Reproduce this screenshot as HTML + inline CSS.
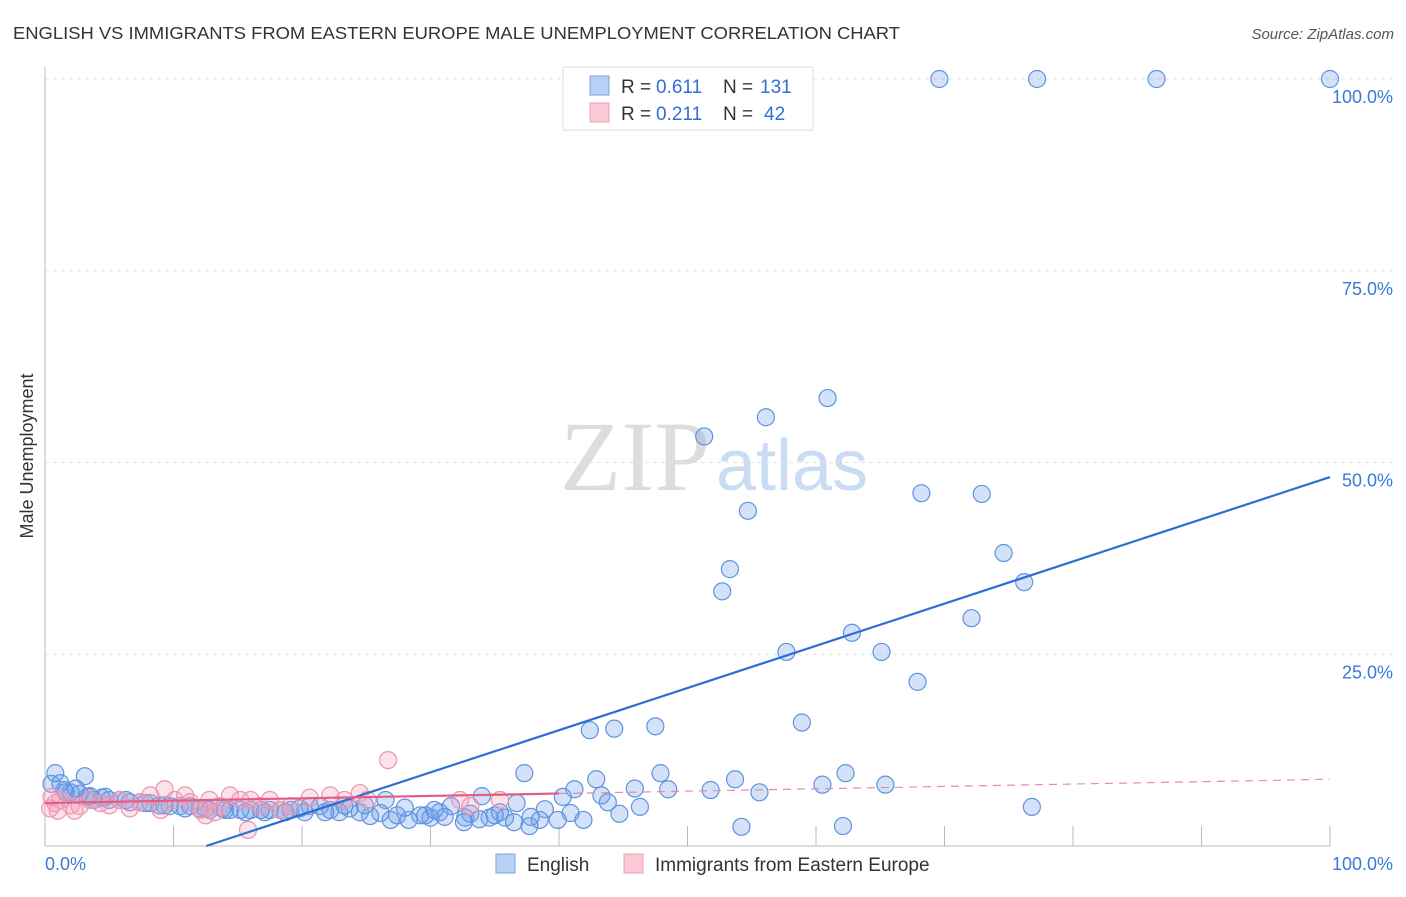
<!DOCTYPE html>
<html><head><meta charset="utf-8"><style>
body{margin:0;background:#fff;font-family:"Liberation Sans",sans-serif;}
svg text{font-family:"Liberation Sans",sans-serif;}
</style></head><body>
<svg id="c" width="1406" height="892" xmlns="http://www.w3.org/2000/svg">
<text x="13" y="39" font-size="17.5" fill="#333" textLength="887" lengthAdjust="spacingAndGlyphs">ENGLISH VS IMMIGRANTS FROM EASTERN EUROPE MALE UNEMPLOYMENT CORRELATION CHART</text>
<text x="1394" y="39" font-size="15" fill="#555" font-style="italic" text-anchor="end">Source: ZipAtlas.com</text>
<text x="710" y="490" font-size="100" fill="#ddd" text-anchor="end" style="font-family:'Liberation Serif',serif">ZIP</text>
<text x="716" y="490" font-size="72" fill="#c9dcf3">atlas</text>
<text transform="translate(33,456) rotate(-90)" font-size="18" fill="#333" text-anchor="middle">Male Unemployment</text>
<g id="grid"></g><g id="pts"></g><g id="lines"></g>
<g>
<rect x="563" y="67" width="250" height="63" fill="#fff" stroke="#ddd"/>
<rect x="590" y="76" width="19" height="19" fill="#b8d0f3" stroke="#7aa5e3"/>
<rect x="590" y="103" width="19" height="19" fill="#fbc8d6" stroke="#eea0b6"/>
<g font-size="19" fill="#333">
<text x="621" y="93">R =</text><text x="656" y="93" fill="#2f6fd6">0.611</text><text x="723" y="93">N =</text><text x="760" y="93" fill="#2f6fd6">131</text></g>
<g font-size="19" fill="#333">
<text x="621" y="120">R =</text><text x="656" y="120" fill="#2f6fd6">0.211</text><text x="723" y="120">N =</text><text x="764" y="120" fill="#2f6fd6">42</text></g>
</g>
<g>
<rect x="496" y="854" width="19" height="19" fill="#b8d0f3" stroke="#7aa5e3"/>
<text x="527" y="871" font-size="19" fill="#333">English</text>
<rect x="624" y="854" width="19" height="19" fill="#fbc8d6" stroke="#eea0b6"/>
<text x="655" y="871" font-size="19" fill="#333">Immigrants from Eastern Europe</text>
</g>
</svg>
<script>
const xTickLabels=["0.0%","100.0%"];
const yTicks=[25,50,75,100];
const yTickLabels=["25.0%","50.0%","75.0%","100.0%"];
const englishX=[69.6,77.2,86.5,100,56.1,60.9,51.3,68.2,72.9,54.7,74.6,53.3,52.7,76.2,72.1,62.8,57.7,65.1,67.9,47.5,42.4,44.3,58.9,37.3,42.9,47.9,53.7,62.3,45.9,41.2,43.3,48.5,51.8,55.6,60.5,65.4,76.8,54.2,62.1,37.7,44.7,46.3,43.8,40.3,34,36.7,38.9,40.9,41.9,39.9,38.5,35.8,34.6,35.4,33.1,32.7,31.6,30.7,30,29.2,28.3,27.4,26.9,26.1,25.3,24.5,23.7,22.9,22.2,21.4,20.6,19.8,19.1,18.3,17.5,16.8,16,15.2,14.4,13.8,12.8,12,11.3,10.5,9.7,8.9,8.2,7.4,6.6,5.8,5,4.4,3.8,3.3,2.7,2,1.5,0.5,1.2,3.1,4.7,6.3,7.8,9.3,10.9,12.5,14,15.6,17.1,18.7,20.2,21.8,23.3,24.9,26.5,28,29.6,31.1,32.6,33.8,35,36.5,37.8,30.3,0.8,1.6,2.4,3.5];
const englishY=[100,100,100,100,55.9,58.4,53.4,46,45.9,43.7,38.2,36.1,33.2,34.4,29.7,27.8,25.3,25.3,21.4,15.6,15.1,15.3,16.1,9.5,8.7,9.5,8.7,9.5,7.5,7.4,6.6,7.4,7.3,7,8,8,5.1,2.5,2.6,2.6,4.2,5.1,5.7,6.4,6.5,5.6,4.8,4.3,3.4,3.4,3.4,3.7,3.7,4.4,4.2,3.7,5.2,4.4,3.7,4.0,3.4,4.0,3.4,4.3,3.9,4.4,4.9,4.4,4.7,5.2,5.2,4.9,4.7,4.7,4.7,4.7,4.7,4.7,4.7,4.9,4.7,4.9,5.2,5.2,5.2,5.3,5.6,5.7,5.7,6,6,6.3,6,6.4,6.8,7.0,7.3,8.1,8.2,9.1,6.4,6,5.6,5.3,4.9,4.9,4.7,4.4,4.4,4.4,4.4,4.4,5.3,5.3,6,5.0,4.0,3.8,3.1,3.5,4.0,3.1,3.8,4.7,9.5,7.0,7.5,6.5];
const immX=[0.4,0.8,1.2,2,2.7,3.5,4.3,5,5.8,6.6,7.4,8.2,9,9.3,10.1,10.9,11.3,12.1,12.5,12.8,13.2,13.6,14.4,15.2,16,16.7,17.5,18.3,19.1,20.6,22.2,23.3,24.5,25.1,26.7,15.8,32.3,33.1,35.4,0.5,1,2.3];
const immY=[4.9,5.6,6,5.3,5.2,6,5.6,5.3,6,4.9,5.7,6.6,4.7,7.4,6,6.6,5.7,4.7,4.0,6,4.4,5.2,6.6,6,6,5.2,6,4.7,5.2,6.3,6.6,6,6.9,6,11.2,2.1,6,5.2,6,6.4,4.6,4.6];
const blueLine=[[0,-6.9],[100,48.1]];
const pinkLine=[[0,5.6],[100,8.7]];
const pinkSolidEnd=40;
const X=v=>45+v*12.85, Y=v=>846-v*7.67;
const NS="http://www.w3.org/2000/svg";
function mk(t,a,p){const e=document.createElementNS(NS,t);for(const k in a)e.setAttribute(k,a[k]);p.appendChild(e);return e;}
const grid=document.getElementById('grid');
yTicks.forEach((t,i)=>{
 const l=mk('line',{x1:45,x2:1394,y1:Y(t),y2:Y(t),stroke:'#e2e2e2','stroke-dasharray':'4,4'},grid);
 
 
 const tx=mk('text',{x:1393,y:Y(t)+24,'font-size':18,fill:'#3b78d8','text-anchor':'end'},grid);
 tx.textContent=yTickLabels[i];
 
 
});
mk('line',{x1:45,x2:45,y1:67,y2:846,stroke:'#bbb'},grid);
mk('line',{x1:45,x2:1330,y1:846,y2:846,stroke:'#bbb'},grid);
for(let i=1;i<=10;i++){const t=mk('line',{x1:X(i*10),x2:X(i*10),y1:826,y2:846,stroke:'#bbb'},grid);
 
 }
[[0,'start',45],[100,'end',1393]].forEach((d,i)=>{const t=mk('text',{x:d[2],y:870,'font-size':18,fill:'#3b78d8','text-anchor':d[1]},grid);t.textContent=xTickLabels[i];
 
 });
const pts=document.getElementById('pts');
englishX.forEach((x,i)=>{const c=mk('circle',{cx:X(x),cy:Y(englishY[i]),r:8.5,fill:'rgba(110,160,235,0.3)',stroke:'#5f93dd','stroke-width':1.2},pts);
 
 });
immX.forEach((x,i)=>{const c=mk('circle',{cx:X(x),cy:Y(immY[i]),r:8.5,fill:'rgba(245,160,190,0.3)',stroke:'#ec94ae','stroke-width':1.2},pts);
 
 });
const ln=document.getElementById('lines');
const bx0=(0-blueLine[0][1])/((blueLine[1][1]-blueLine[0][1])/100);
const bl=mk('line',{x1:X(bx0),y1:Y(0),x2:X(100),y2:Y(blueLine[1][1]),stroke:'#2b6fd6','stroke-width':2.2},ln);


const py=x=>pinkLine[0][1]+(pinkLine[1][1]-pinkLine[0][1])*x/100;
const ps=mk('line',{x1:X(0),y1:Y(py(0)),x2:X(pinkSolidEnd),y2:Y(py(pinkSolidEnd)),stroke:'#e45c86','stroke-width':2.2},ln);


const pd=mk('line',{x1:X(pinkSolidEnd),y1:Y(py(pinkSolidEnd)),x2:X(100),y2:Y(py(100)),stroke:'#e88aa6','stroke-width':1.2,'stroke-dasharray':'8,6'},ln);


</script>
</body></html>
